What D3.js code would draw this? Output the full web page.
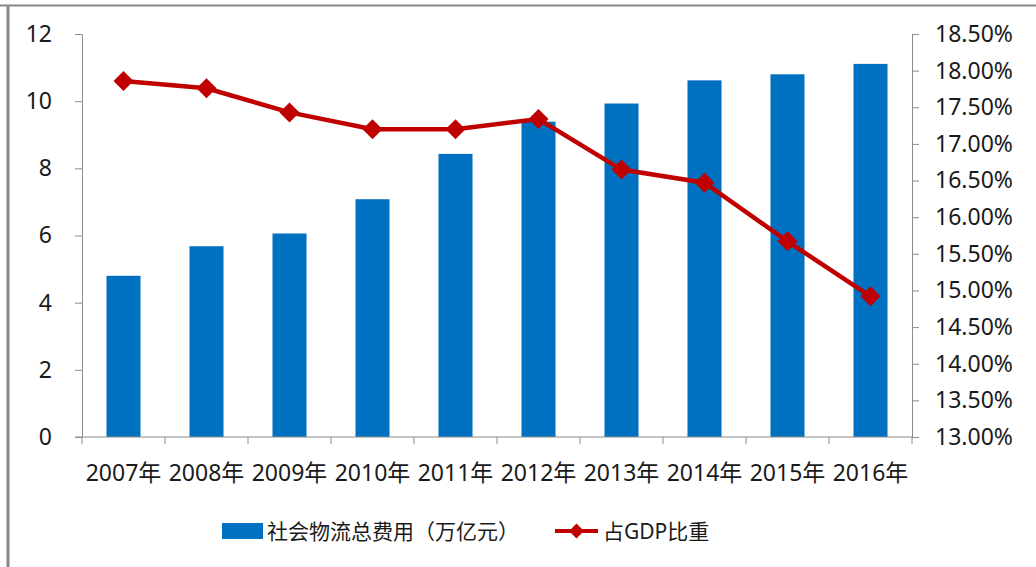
<!DOCTYPE html>
<html>
<head>
<meta charset="utf-8">
<script src="https://cdn.jsdelivr.net/npm/d3@7"></script>
<style>
  body { margin: 0; background: #fff; }
  text { font-family: "Noto Sans", "Noto Sans CJK SC", sans-serif; fill: #1a1a1a; }
  .axis path, .axis line { stroke: #8c8c8c; }
</style>
</head>
<body>
<div id="viz"></div>
<script>
var years = ["2007年","2008年","2009年","2010年","2011年","2012年","2013年","2014年","2015年","2016年"];
var totalCost = [4.80, 5.68, 6.06, 7.08, 8.43, 9.39, 9.93, 10.62, 10.80, 11.11];
var gdpShare = [17.86, 17.76, 17.43, 17.20, 17.20, 17.34, 16.65, 16.47, 15.67, 14.92];
var leftTicks = [0, 2, 4, 6, 8, 10, 12];
var rightTicks = [13, 13.5, 14, 14.5, 15, 15.5, 16, 16.5, 17, 17.5, 18, 18.5];
var barName = "社会物流总费用（万亿元）",
    lineName = "占GDP比重";

var width = 1036, height = 567,
    margin = {top: 34, left: 82, right: 124, bottom: 130},
    plotW = width - margin.left - margin.right,
    plotH = height - margin.top - margin.bottom;

var svg = d3.select("#viz").append("svg")
    .attr("width", width)
    .attr("height", height);

// outer frame (top and left edges only visible)
svg.append("line").attr("x1", 0).attr("x2", width).attr("y1", 5.5).attr("y2", 5.5)
    .attr("stroke", "#888").attr("stroke-width", 2);
svg.append("line").attr("x1", 8).attr("x2", 8).attr("y1", 5).attr("y2", height)
    .attr("stroke", "#888").attr("stroke-width", 3);

var g = svg.append("g")
    .attr("transform", "translate(" + margin.left + "," + margin.top + ")");

var x = d3.scaleBand().domain(years).range([0, plotW]).paddingInner(0.59).paddingOuter(0.295);
var xb = d3.scaleBand().domain(years).range([0, plotW]);
var yL = d3.scaleLinear().domain([0, 12]).range([plotH, 0]);
var yR = d3.scaleLinear().domain([13, 18.5]).range([plotH, 0]);

// bars
g.selectAll(".bar")
    .data(totalCost)
  .enter().append("rect")
    .attr("class", "bar")
    .attr("x", function(d, i){ return x(years[i]); })
    .attr("y", function(d){ return yL(d); })
    .attr("width", x.bandwidth())
    .attr("height", function(d){ return plotH - yL(d); })
    .attr("fill", "#0070c0");

// left axis
var ax = g.append("g").attr("class", "axis")
    .call(d3.axisLeft(yL).tickValues(leftTicks).tickSize(7).tickPadding(23).tickSizeOuter(0));
ax.selectAll("text").style("font-size", "23px");

// right axis
var ar = g.append("g").attr("class", "axis")
    .attr("transform", "translate(" + plotW + ",0)")
    .call(d3.axisRight(yR).tickValues(rightTicks).tickSize(7).tickPadding(16).tickSizeOuter(0)
        .tickFormat(function(d){ return d.toFixed(2) + "%"; }));
ar.selectAll("text").style("font-size", "23px");

// bottom axis: ticks at band boundaries
var bx = g.append("g").attr("class", "axis")
    .attr("transform", "translate(0," + plotH + ")");
bx.append("line").attr("x1", -7).attr("x2", plotW).attr("stroke", "#8c8c8c");
bx.selectAll(".tk")
    .data(years.concat(["end"]))
  .enter().append("line")
    .attr("x1", function(d, i){ return i < years.length ? xb(d) : plotW; })
    .attr("x2", function(d, i){ return i < years.length ? xb(d) : plotW; })
    .attr("y1", 0).attr("y2", 7)
    .attr("stroke", "#8c8c8c");
bx.selectAll(".lbl")
    .data(years)
  .enter().append("text")
    .attr("x", function(d){ return xb(d) + xb.bandwidth() / 2; })
    .attr("y", 44)
    .attr("text-anchor", "middle")
    .style("font-size", "23px")
    .text(function(d){ return d; });

// line
var line = d3.line()
    .x(function(d, i){ return xb(years[i]) + xb.bandwidth() / 2; })
    .y(function(d){ return yR(d); });

g.append("path")
    .datum(gdpShare)
    .attr("d", line)
    .attr("fill", "none")
    .attr("stroke", "#c00000")
    .attr("stroke-width", 4.5);

g.selectAll(".pt")
    .data(gdpShare)
  .enter().append("path")
    .attr("transform", function(d, i){
        return "translate(" + (xb(years[i]) + xb.bandwidth() / 2) + "," + yR(d) + ") rotate(45)"; })
    .attr("d", d3.symbol().type(d3.symbolSquare).size(200))
    .attr("fill", "#c00000");

// legend
var lg = svg.append("g").attr("transform", "translate(0,531)");
lg.append("rect").attr("x", 222).attr("y", -8).attr("width", 41).attr("height", 16).attr("fill", "#0070c0");
lg.append("text").attr("x", 267).attr("y", 8).style("font-size", "21px").text(barName);
lg.append("line").attr("x1", 555).attr("x2", 598).attr("y1", 0).attr("y2", 0)
    .attr("stroke", "#c00000").attr("stroke-width", 4);
lg.append("path").attr("transform", "translate(576.5,0) rotate(45)")
    .attr("d", d3.symbol().type(d3.symbolSquare).size(110)).attr("fill", "#c00000");
lg.append("text").attr("x", 603).attr("y", 8).style("font-size", "21px").text(lineName);
</script>
</body>
</html>
